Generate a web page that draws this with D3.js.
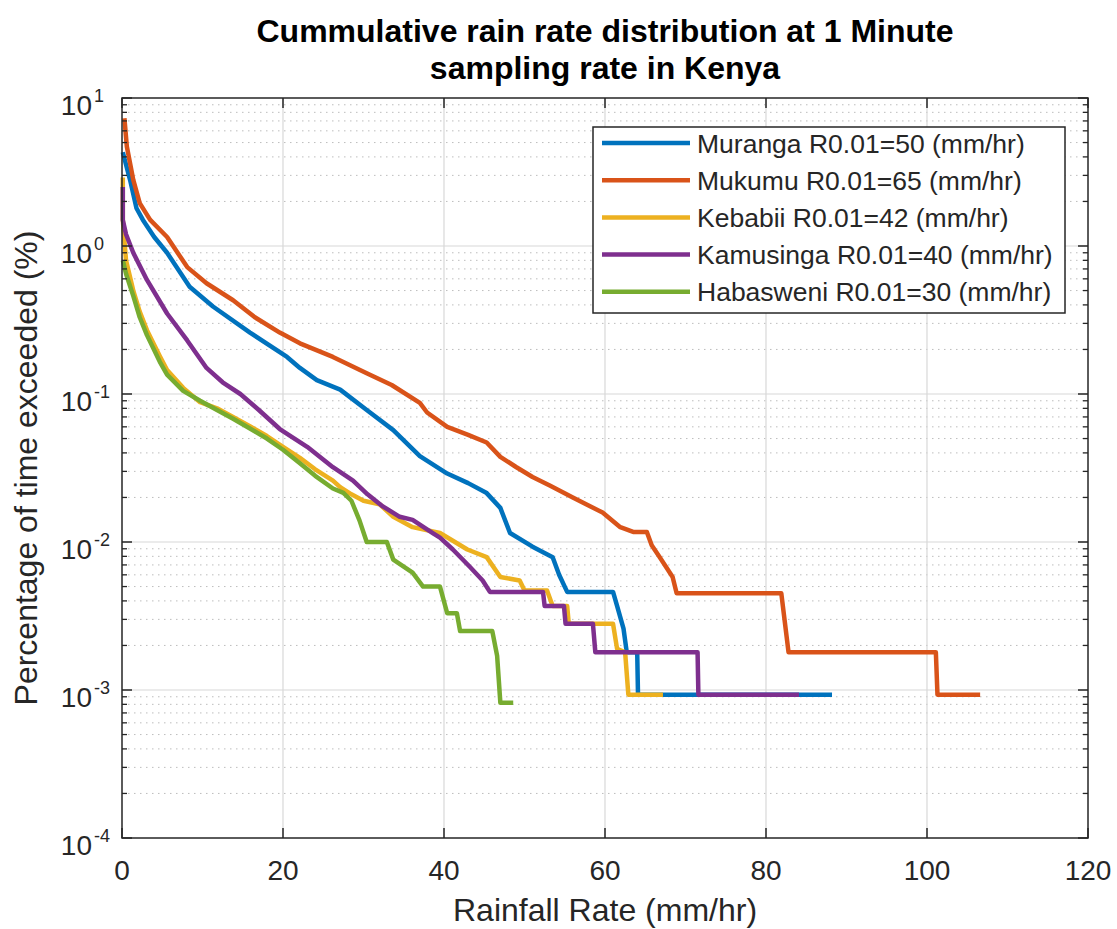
<!DOCTYPE html>
<html><head><meta charset="utf-8">
<script src="https://cdn.jsdelivr.net/npm/d3@7"></script>
<style>body{margin:0;background:#fff}svg{display:block}</style>
</head><body>
<script>
// ---- data ----
const titleLines = ["Cummulative rain rate distribution at 1 Minute", "sampling rate in Kenya"];
const xLabel = "Rainfall Rate (mm/hr)";
const yLabel = "Percentage of time exceeded (%)";
const legendLabels = [
  "Muranga R0.01=50 (mm/hr)",
  "Mukumu R0.01=65 (mm/hr)",
  "Kebabii R0.01=42 (mm/hr)",
  "Kamusinga R0.01=40 (mm/hr)",
  "Habasweni R0.01=30 (mm/hr)"
];
const seriesColors = ["#0072BD", "#D95319", "#EDB120", "#7E2F8E", "#77AC30"];
const xTicks = [0, 20, 40, 60, 80, 100, 120];
const yDecades = [-4, -3, -2, -1, 0, 1];

const murangaRate = [0.1, 1.0, 1.8, 2.6, 4, 5.6, 8.4, 11.3, 15.9, 20.5, 22.1, 24.2, 27.1, 30.4, 33.7, 37, 40.4, 43, 45.3, 47, 48.2, 51, 53.5, 54.3, 55.3, 61, 61.5, 62.3, 62.7, 64, 64.1, 88.2];
const murangaPct  = [4.3, 2.8, 1.8, 1.5, 1.15, 0.9, 0.53, 0.39, 0.26, 0.178, 0.15, 0.124, 0.107, 0.078, 0.057, 0.038, 0.029, 0.025, 0.0214, 0.017, 0.0115, 0.0093, 0.0079, 0.006, 0.0046, 0.0046, 0.0037, 0.0026, 0.0018, 0.0018, 0.00093, 0.00093];

const mukumuRate = [0.3, 0.6, 1.4, 2.2, 3.5, 5.6, 8.1, 10.5, 13.8, 16.5, 19.6, 22.1, 26.2, 30.4, 33.5, 37, 37.9, 40.4, 43, 45.3, 47, 49, 51, 53.2, 56, 59.7, 61.9, 63.5, 65.2, 65.8, 66.8, 68.4, 68.9, 81.9, 82.8, 101.1, 101.3, 106.6];
const mukumuPct  = [7.3, 4.7, 2.8, 1.95, 1.5, 1.15, 0.72, 0.56, 0.43, 0.33, 0.26, 0.22, 0.178, 0.138, 0.115, 0.087, 0.075, 0.06, 0.053, 0.047, 0.0376, 0.032, 0.0275, 0.024, 0.020, 0.0158, 0.0126, 0.0117, 0.0117, 0.0095, 0.0079, 0.0058, 0.0045, 0.0045, 0.0018, 0.0018, 0.00093, 0.00093];

const kebabiiRate = [0.1, 0.1, 0.5, 1.4, 2.2, 3.1, 4.7, 5.6, 7.6, 9.7, 11.8, 13.8, 16, 18, 20, 22.1, 24, 26.2, 27.1, 28.5, 30, 32, 33.7, 36.1, 39.5, 41.1, 42.9, 45.3, 47, 49.4, 50, 52.8, 53.5, 55.3, 55.5, 61, 61.5, 62.5, 62.9, 67.2];
const kebabiiPct  = [2.9, 1.5, 0.8, 0.5, 0.36, 0.27, 0.18, 0.145, 0.11, 0.088, 0.08, 0.07, 0.06, 0.052, 0.044, 0.037, 0.031, 0.026, 0.0235, 0.021, 0.019, 0.018, 0.0148, 0.0126, 0.0115, 0.0102, 0.0089, 0.0079, 0.0058, 0.0055, 0.0047, 0.0047, 0.0037, 0.0037, 0.0028, 0.0028, 0.0019, 0.0018, 0.00093, 0.00093];

const kamusingaRate = [0.1, 0.1, 0.5, 1.4, 3.1, 5.6, 8.1, 10.5, 12.5, 14.7, 17, 19.6, 23, 26.2, 28.7, 30.5, 32.4, 34.5, 36.1, 38.6, 39.5, 41.1, 43.2, 44.8, 45.7, 52.3, 52.5, 54.9, 55.1, 58.5, 58.8, 71.5, 71.6, 84.1];
const kamusingaPct  = [2.5, 1.5, 1.2, 0.9, 0.59, 0.35, 0.23, 0.15, 0.12, 0.10, 0.078, 0.058, 0.044, 0.032, 0.026, 0.021, 0.0174, 0.0148, 0.0141, 0.0115, 0.0107, 0.0089, 0.0068, 0.0055, 0.0046, 0.0046, 0.0037, 0.0037, 0.0028, 0.0028, 0.0018, 0.0018, 0.00093, 0.00093];

const habasweniRate = [0.1, 0.5, 1.4, 2.2, 3.1, 4.7, 5.6, 7.6, 9.7, 11.8, 13.8, 16, 18, 20, 22.1, 24, 26.2, 27.5, 28.5, 29.5, 30.4, 32.9, 33.7, 36.1, 37.4, 39.5, 40.4, 41.6, 42, 46, 46.6, 47, 48.6];
const habasweniPct  = [0.8, 0.65, 0.46, 0.33, 0.25, 0.165, 0.135, 0.105, 0.09, 0.078, 0.068, 0.058, 0.05, 0.042, 0.034, 0.028, 0.023, 0.0215, 0.019, 0.014, 0.010, 0.010, 0.0076, 0.0062, 0.005, 0.005, 0.0033, 0.0033, 0.0025, 0.0025, 0.0017, 0.00082, 0.00082];

const seriesRates = [murangaRate, mukumuRate, kebabiiRate, kamusingaRate, habasweniRate];
const seriesPcts = [murangaPct, mukumuPct, kebabiiPct, kamusingaPct, habasweniPct];

// ---- layout ----
const W = 1117, H = 929;
const L = 122, R = 1088, T = 98, B = 838;
const ink = "#262626";
const font = "'Liberation Sans', Arial, Helvetica, sans-serif";

const svg = d3.select("body").append("svg").attr("width", W).attr("height", H)
  .style("font-family", font);

const x = d3.scaleLinear().domain([0, 120]).range([L, R]);
const y = d3.scaleLog().domain([1e-4, 10]).range([B, T]);

// minor y values
const minorY = [];
yDecades.slice(0, -1).forEach(e => { for (let k = 2; k <= 9; k++) minorY.push(k * Math.pow(10, e)); });
const majorY = yDecades.map(e => Math.pow(10, e));

// grids
const grid = svg.append("g");
grid.selectAll(".my").data(minorY).join("line")
  .attr("x1", L).attr("x2", R).attr("y1", d => y(d)).attr("y2", d => y(d))
  .attr("stroke", "#bdbdbd").attr("stroke-width", 1).attr("stroke-dasharray", "1.5,4.5");
grid.selectAll(".gy").data(majorY.slice(1, -1)).join("line")
  .attr("x1", L).attr("x2", R).attr("y1", d => y(d)).attr("y2", d => y(d))
  .attr("stroke", "#d8d8d8").attr("stroke-width", 1.2);
grid.selectAll(".gx").data(xTicks.slice(1, -1)).join("line")
  .attr("x1", d => x(d)).attr("x2", d => x(d)).attr("y1", T).attr("y2", B)
  .attr("stroke", "#d8d8d8").attr("stroke-width", 1.2);

// series
const line = d3.line().x(d => x(d[0])).y(d => y(d[1]));
seriesRates.forEach((rates, i) => {
  const pts = rates.map((r, j) => [r, seriesPcts[i][j]]);
  svg.append("path").datum(pts).attr("d", line)
    .attr("fill", "none").attr("stroke", seriesColors[i]).attr("stroke-width", 4.5)
    .attr("stroke-linejoin", "round").attr("stroke-linecap", "butt");
});

// axes box and ticks
const ax = svg.append("g").attr("stroke", ink);
ax.append("rect").attr("x", L).attr("y", T).attr("width", R - L).attr("height", B - T)
  .attr("fill", "none").attr("stroke-width", 1.5);
xTicks.forEach(t => {
  ax.append("line").attr("x1", x(t)).attr("x2", x(t)).attr("y1", B).attr("y2", B - 10).attr("stroke-width", 1.5);
  ax.append("line").attr("x1", x(t)).attr("x2", x(t)).attr("y1", T).attr("y2", T + 10).attr("stroke-width", 1.5);
});
majorY.forEach(v => {
  ax.append("line").attr("x1", L).attr("x2", L + 10).attr("y1", y(v)).attr("y2", y(v)).attr("stroke-width", 1.5);
  ax.append("line").attr("x1", R).attr("x2", R - 10).attr("y1", y(v)).attr("y2", y(v)).attr("stroke-width", 1.5);
});
minorY.forEach(v => {
  ax.append("line").attr("x1", L).attr("x2", L + 5).attr("y1", y(v)).attr("y2", y(v)).attr("stroke-width", 1.3);
  ax.append("line").attr("x1", R).attr("x2", R - 5).attr("y1", y(v)).attr("y2", y(v)).attr("stroke-width", 1.3);
});

// tick labels
svg.selectAll(".xt").data(xTicks).join("text")
  .attr("x", d => x(d)).attr("y", B + 42).attr("text-anchor", "middle")
  .attr("font-size", 28).attr("fill", ink).text(d => d);
yDecades.forEach(e => {
  const yy = y(Math.pow(10, e));
  svg.append("text").attr("x", 92).attr("y", yy + 17).attr("text-anchor", "end")
    .attr("font-size", 28).attr("fill", ink).text("10");
  svg.append("text").attr("x", 94).attr("y", yy + 4).attr("text-anchor", "start")
    .attr("font-size", 18).attr("fill", ink).text(e < 0 ? "-" + Math.abs(e) : String(e));
});

// axis labels
svg.append("text").attr("x", (L + R) / 2).attr("y", 921).attr("text-anchor", "middle")
  .attr("font-size", 32).attr("fill", ink).text(xLabel);
svg.append("text").attr("transform", `translate(37,${(T + B) / 2}) rotate(-90)`)
  .attr("text-anchor", "middle").attr("font-size", 32).attr("fill", ink).text(yLabel);

// title
titleLines.forEach((t, i) => {
  svg.append("text").attr("x", (L + R) / 2).attr("y", 42 + i * 37).attr("text-anchor", "middle")
    .attr("font-size", 32).attr("font-weight", "bold").attr("fill", "#000").text(t);
});

// legend
const lg = svg.append("g");
lg.append("rect").attr("x", 593).attr("y", 127).attr("width", 472).attr("height", 186)
  .attr("fill", "#fff").attr("stroke", ink).attr("stroke-width", 1.5);
legendLabels.forEach((lab, i) => {
  const cy = 143 + i * 37.2;
  lg.append("line").attr("x1", 602).attr("x2", 690).attr("y1", cy).attr("y2", cy)
    .attr("stroke", seriesColors[i]).attr("stroke-width", 4.5);
  lg.append("text").attr("x", 697).attr("y", cy + 9.5).attr("font-size", 26.5)
    .attr("fill", ink).text(lab);
});
</script>
</body></html>
